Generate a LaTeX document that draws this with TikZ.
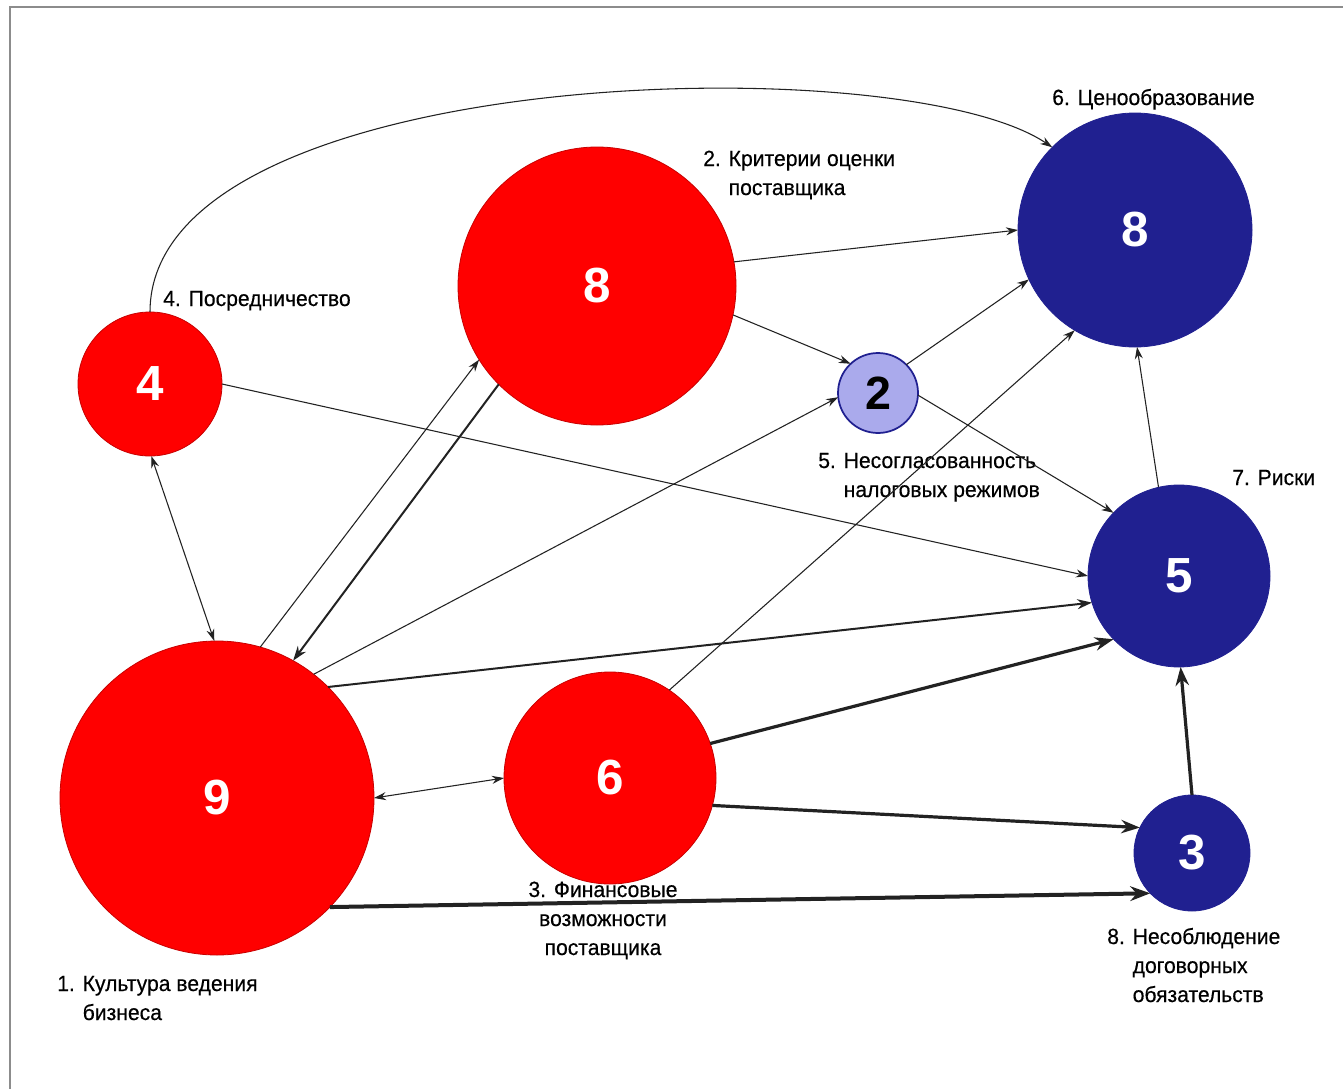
\documentclass[tikz,border=0pt]{standalone}
\usepackage{fontspec}
\setmainfont{Liberation Sans}
\newfontfamily\lblfont{Liberation Sans}[FakeBold=0.4,FakeStretch=0.96]
\usetikzlibrary{arrows.meta}
\definecolor{cred}{RGB}{255,0,0}
\definecolor{credline}{RGB}{200,0,0}
\definecolor{cblue}{RGB}{32,32,144}
\definecolor{clight}{RGB}{170,170,236}
\definecolor{cedge}{RGB}{34,34,34}
\definecolor{cframe}{RGB}{140,140,140}
\begin{document}
\begin{tikzpicture}[x=0.75pt,y=-0.75pt,
  bub/.style={circle,inner sep=0pt,outer sep=0pt,font=\bfseries\fontsize{37}{37}\selectfont},
  redc/.style={bub,fill=cred,draw=credline,line width=0.6pt,text=white},
  bluec/.style={bub,fill=cblue,draw=cblue,line width=0.6pt,text=white},
  lightc/.style={bub,fill=clight,draw=cblue,line width=1.3pt,text=black,font=\bfseries\fontsize{35}{35}\selectfont},
  lbl/.style={inner sep=0pt,anchor=base west,font=\lblfont\fontsize{16.5}{21.75}\selectfont},
  ethin/.style={draw=cedge,line width=0.8pt,-{Stealth[length=9pt,width=6pt]}},
  emed/.style={draw=cedge,line width=1.5pt,-{Stealth[length=11pt,width=7.5pt]}},
  ethick/.style={draw=cedge,line width=2.4pt,-{Stealth[length=14pt,width=10pt]}},
  ebig/.style={draw=cedge,line width=3pt,-{Stealth[length=15pt,width=11pt]}},
  ebi/.style={draw=cedge,line width=0.8pt,{Stealth[length=9pt,width=6pt]}-{Stealth[length=9pt,width=6pt]}}
]
\useasboundingbox (0,0) rectangle (1343,1089);
\fill[white] (0,0) rectangle (1343,1089);
\draw[cframe,line width=0.8pt] (10,1089) -- (10,7) -- (1343,7);

% circles
\node[redc,minimum size=108pt] (n4) at (150,384) {4};
\node[redc,minimum size=208.5pt] (c2) at (597,286) {8};
\node[lightc,minimum size=60pt] (t2) at (878,393) {2};
\node[bluec,minimum size=175.5pt] (p8) at (1135,230) {8};
\node[bluec,minimum size=136.5pt] (r5) at (1179,576) {5};
\node[redc,minimum size=235.5pt] (b9) at (217,798) {9};
\node[redc,minimum size=159pt] (f6) at (610,778) {6};
\node[bluec,minimum size=87pt] (d3) at (1192,853) {3};

% labels
\node[lbl] (l4) at (163,306) {4. Посредничество};
\node[lbl] (l6) at (1052,105) {6. Ценообразование};
\node[lbl] (l2) at (703,166) {\vtop{\hbox{2. Критерии оценки}\hbox{\phantom{2. }поставщика}}};
\node[lbl] (l5) at (818,468) {\vtop{\hbox{5. Несогласованность}\hbox{\phantom{5. }налоговых режимов}}};
\node[lbl] (l7) at (1232,485) {7. Риски};
\node[lbl,anchor=base] (l3) at (603,897) {\vtop{\hbox to 0pt{\hss 3. Финансовые\hss}\hbox to 0pt{\hss возможности\hss}\hbox to 0pt{\hss поставщика\hss}}};
\node[lbl] (l8) at (1107,944) {\vtop{\hbox{8. Несоблюдение}\hbox{\phantom{8. }договорных}\hbox{\phantom{8. }обязательств}}};
\node[lbl] (l1) at (57,991) {\vtop{\hbox{1. Культура ведения}\hbox{\phantom{1. }бизнеса}}};

% connectors
\draw[ethin] (n4.90) .. controls (150,65) and (900,45) .. (p8.135);
\draw[ebi] (n4.-89) -- (b9.91);
\draw[ethin] (n4.0) -- (r5.180);
\draw[ethin] (b9.74.7) -- (c2.-148);
\draw[emed] (c2.225) -- (b9.61.8);
\draw[ethin] (b9.52.7) -- (t2.-174);
\draw[emed] (b9.45) -- (r5.-163.6);
\draw[ebi] (b9.0) -- (f6.180);
\draw[ebig] (b9.-44.5) -- (d3.-136.4);
\draw[ethin] (c2.10.7) -- (p8.180);
\draw[ethin] (c2.-12) -- (t2.133);
\draw[ethin] (t2.45) -- (p8.-155);
\draw[ethin] (t2.-3) -- (r5.136);
\draw[ethin] (f6.56) -- (p8.-121.7);
\draw[ethin] (r5.103.4) -- (p8.-89);
\draw[ethick] (f6.19.8) -- (r5.-136);
\draw[ethick] (f6.-15) -- (d3.154);
\draw[ethick] (d3.90) -- (r5.-89);
\end{tikzpicture}
\end{document}
